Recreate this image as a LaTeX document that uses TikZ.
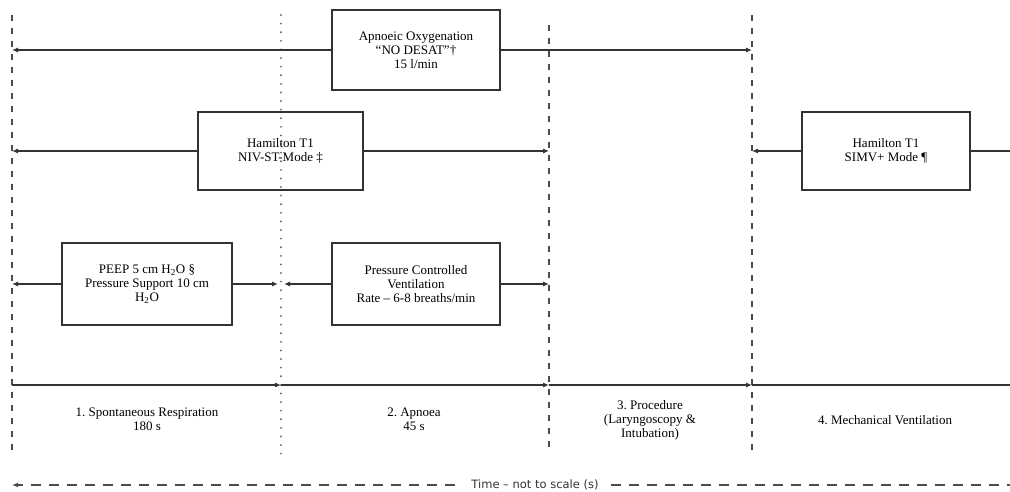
\documentclass[tikz,border=0pt]{standalone}
\usepackage{fontspec}
\setmainfont{Liberation Serif}
\newfontfamily\timefont{DejaVu Sans}
\usetikzlibrary{arrows.meta}
\usetikzlibrary{shapes}
\frenchspacing

\begin{document}
\begin{tikzpicture}[x = 1pt, y = -1pt, font=\fontsize{13}{14}\selectfont]
	\tikzstyle{boxStyle} = [draw = black!80, line width = 1.1pt, align = center, inner sep = 0pt]
	\tikzstyle{phaseStyle} = [align = center, inner sep = 0pt]
	\tikzstyle{flowStyle} = [draw = black!80, line width = 1.1pt]
	\tikzstyle{flowArrow} = [flowStyle, -{Latex[length = 6pt, width = 5pt]}]
	\tikzstyle{borderStyle} = [draw = black!70, line width = 1.4pt, dash pattern = on 6pt off 7pt]
	\tikzstyle{switchStyle} = [draw = black!60, line width = 2pt, line cap = round, dash pattern = on 0.1pt off 8.5pt]
	\useasboundingbox (0, 0) rectangle (1010, 492);
	% phase borders
	\coordinate (b0top) at (12, 15);   \coordinate (b0bot) at (12, 455);
	\coordinate (b1top) at (281, 15);  \coordinate (b1bot) at (281, 455);
	\coordinate (b2top) at (549, 25);  \coordinate (b2bot) at (549, 450);
	\coordinate (b3top) at (752, 15);  \coordinate (b3bot) at (752, 452);
	\draw[borderStyle] (b0top) -- (b0bot);
	\draw[switchStyle] (b1top) -- (b1bot);
	\draw[borderStyle] (b2top) -- (b2bot);
	\draw[borderStyle] (b3top) -- (b3bot);
	% boxes
	\node[boxStyle, minimum width = 168, minimum height = 80] (oxy) at (416, 50) {Apnoeic Oxygenation\\ “NO DESAT”†\\ 15 l/min};
	\node[boxStyle, minimum width = 165, minimum height = 78] (niv) at (280.5, 151) {Hamilton T1\\ NIV-ST-Mode ‡};
	\node[boxStyle, minimum width = 168, minimum height = 78] (simv) at (886, 151) {Hamilton T1\\ SIMV+ Mode ¶};
	\node[boxStyle, minimum width = 170, minimum height = 82] (peep) at (147, 284) {PEEP 5 cm H\textsubscript{2}O §\\ Pressure Support 10 cm\\ H\textsubscript{2}O};
	\node[boxStyle, minimum width = 168, minimum height = 82] (pcv) at (416, 284) {Pressure Controlled\\ Ventilation\\ Rate – 6-8 breaths/min};
	% arrow ends
	\coordinate (oxyL) at (12, 50);   \coordinate (oxyR) at (752, 50);
	\coordinate (nivL) at (12, 151);  \coordinate (nivR) at (549, 151);
	\coordinate (simvL) at (752, 151); \coordinate (simvR) at (1010, 151);
	\coordinate (peepL) at (12, 284); \coordinate (peepR) at (278, 284);
	\coordinate (pcvL) at (284, 284); \coordinate (pcvR) at (549, 284);
	\draw[flowArrow] (oxy) -- (oxyL);
	\draw[flowArrow] (oxy) -- (oxyR);
	\draw[flowArrow] (niv) -- (nivL);
	\draw[flowArrow] (niv) -- (nivR);
	\draw[flowArrow] (simv) -- (simvL);
	\draw[flowStyle] (simv) -- (simvR);
	\draw[flowArrow] (peep) -- (peepL);
	\draw[flowArrow] (peep) -- (peepR);
	\draw[flowArrow] (pcv) -- (pcvL);
	\draw[flowArrow] (pcv) -- (pcvR);
	% timeline
	\coordinate (t0) at (12, 385);  \coordinate (t1) at (281, 385);
	\coordinate (t2) at (549, 385); \coordinate (t3) at (752, 385);
	\coordinate (t4) at (1010, 385);
	\draw[flowArrow] (t0) -- (t1);
	\draw[flowArrow] (t1) -- (t2);
	\draw[flowArrow] (t2) -- (t3);
	\draw[flowStyle] (t3) -- (t4);
	\node[phaseStyle] (p1) at (147, 419) {1. Spontaneous Respiration\\ 180 s};
	\node[phaseStyle] (p2) at (414, 419) {2. Apnoea\\ 45 s};
	\node[phaseStyle] (p3) at (650, 420) {3. Procedure\\ (Laryngoscopy \&\\ Intubation)};
	\node[phaseStyle] (p4) at (885, 420) {4. Mechanical Ventilation};
	% time axis
	\node[inner sep = 0pt, text = black!80, font = \timefont\fontsize{11.5}{13}\selectfont] (time) at (535, 485) {Time – not to scale (s)};
	\coordinate (timeL) at (12, 485); \coordinate (timeR) at (1010, 485);
	\draw[draw = black!70, line width = 1.4pt, dash pattern = on 10pt off 8pt, -{Latex[length = 6pt, width = 5pt]}] ([xshift = -16pt]time.west) -- (timeL);
	\draw[draw = black!70, line width = 1.4pt, dash pattern = on 10pt off 8pt] ([xshift = 12pt]time.east) -- (timeR);
\end{tikzpicture}
\end{document}
